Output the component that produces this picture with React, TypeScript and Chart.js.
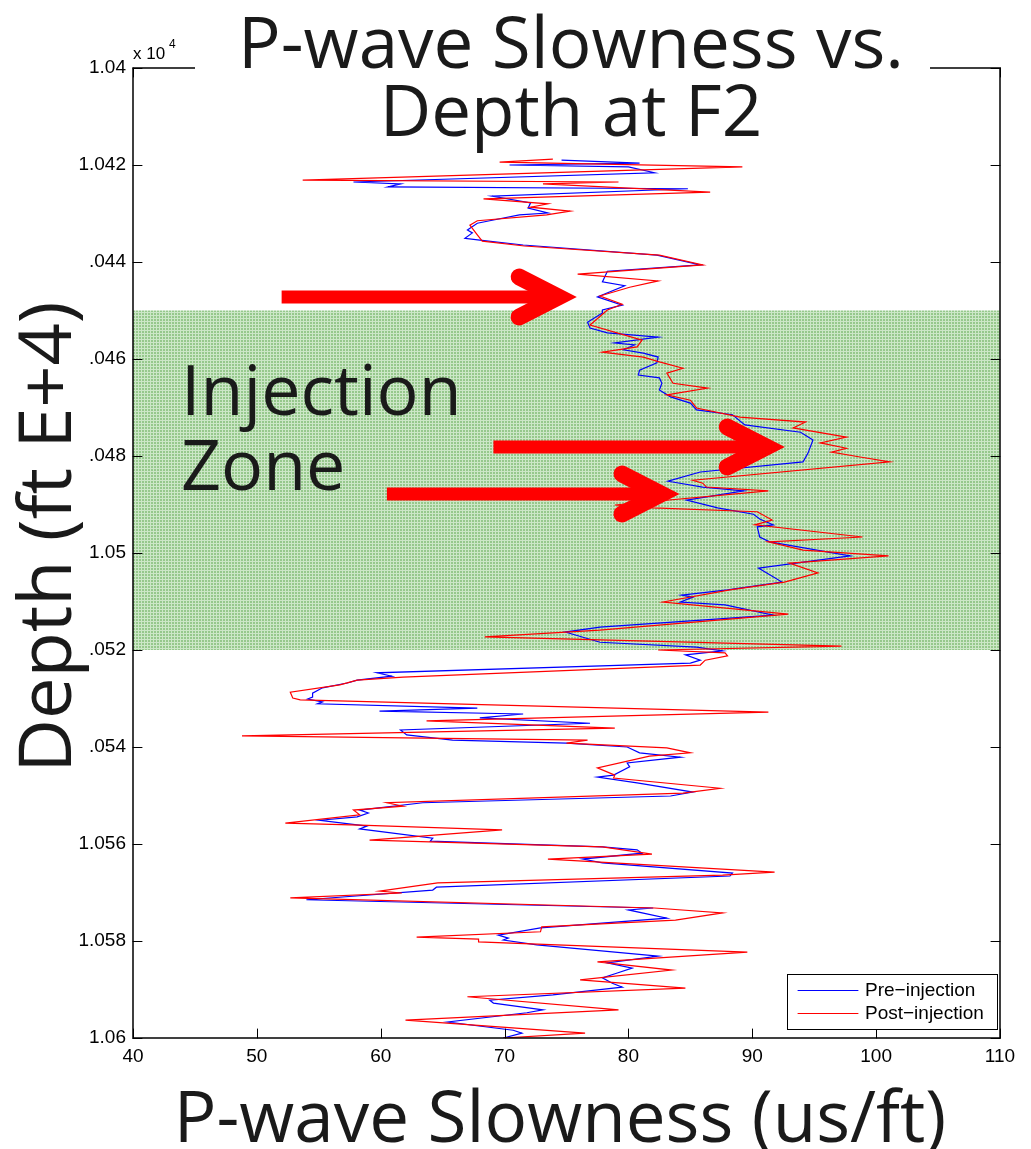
import React, { useEffect, useRef } from "react";
import { Chart, registerables } from "chart.js";

Chart.register(...registerables);

// ---------- data (depth in ft, slowness in us/ft) ----------
const preDepth = [
  10419.0, 10419.6, 10420.0, 10420.4, 10421.6, 10423.5, 10423.9, 10424.5, 10424.9, 10426.4,
  10427.8, 10428.9, 10429.9, 10430.3, 10431.5, 10432.0, 10433.4, 10434.0, 10435.1, 10435.5,
  10436.5, 10438.6, 10440.6, 10441.9, 10444.1, 10444.9, 10447.2, 10448.9, 10449.9, 10450.5,
  10452.4, 10453.6, 10454.6, 10455.5, 10456.7, 10457.1, 10458.1, 10458.8, 10459.6, 10460.8,
  10462.3, 10463.3, 10463.9, 10465.0, 10466.4, 10467.8, 10469.1, 10470.5, 10471.5, 10473.6,
  10475.1, 10476.7, 10479.4, 10481.2, 10483.3, 10485.2, 10486.4, 10487.2, 10489.1, 10490.7,
  10492.0, 10493.0, 10494.2, 10494.6, 10496.7, 10497.7, 10500.6, 10503.1, 10506.0, 10507.6,
  10508.7, 10509.1, 10510.1, 10510.7, 10512.8, 10515.3, 10516.3, 10518.4, 10519.4, 10520.2,
  10521.0, 10522.1, 10522.7, 10524.7, 10525.4, 10526.2, 10526.8, 10527.8, 10528.9, 10529.7,
  10530.1, 10530.7, 10531.1, 10532.0, 10532.6, 10533.2, 10534.0, 10535.1, 10536.5, 10537.5,
  10538.6, 10539.2, 10540.0, 10541.2, 10542.1, 10543.3, 10544.1, 10545.8, 10546.2, 10547.4,
  10549.3, 10550.1, 10551.5, 10553.0, 10553.6, 10554.4, 10555.1, 10556.3, 10556.9, 10558.8,
  10559.4, 10560.6, 10561.2, 10561.9, 10563.1, 10563.9, 10566.0, 10566.6, 10568.9, 10569.5,
  10571.5, 10573.2, 10573.6, 10575.3, 10577.3, 10578.8, 10579.4, 10579.8, 10580.8, 10583.1,
  10584.5, 10585.6, 10586.6, 10587.6, 10588.7, 10589.5, 10591.1, 10592.2, 10592.8, 10594.2,
  10594.8, 10596.7, 10598.4, 10599.0, 10600.0,
];
const preSlowness = [
  74.6, 80.9, 70.4, 80.0, 82.1, 57.8, 61.6, 60.6, 84.8, 69.0,
  72.1, 71.9, 73.5, 71.2, 68.8, 67.8, 67.0, 67.4, 66.8, 68.0,
  71.5, 82.3, 85.8, 78.3, 77.9, 79.7, 77.5, 79.5, 77.9, 77.9,
  76.7, 76.9, 78.3, 82.4, 78.9, 80.5, 79.6, 81.2, 82.4, 82.3,
  80.9, 80.8, 82.5, 82.7, 82.5, 83.4, 85.0, 85.5, 88.4, 89.4,
  93.9, 94.9, 94.5, 94.1, 85.8, 83.2, 86.0, 89.3, 84.7, 87.2,
  90.1, 90.6, 91.7, 90.4, 90.6, 91.4, 97.9, 90.5, 92.4, 88.0,
  84.3, 85.2, 84.2, 87.8, 91.7, 77.7, 74.9, 77.7, 85.5, 87.6,
  84.6, 85.8, 85.0, 59.7, 60.9, 58.1, 57.3, 55.3, 54.5, 54.5,
  54.1, 55.3, 54.9, 67.8, 59.9, 71.5, 68.0, 76.9, 61.6, 62.1,
  65.8, 75.0, 79.9, 80.9, 84.2, 79.9, 80.1, 78.8, 77.5, 80.7,
  85.2, 83.4, 63.4, 58.3, 59.0, 58.1, 55.1, 58.9, 58.3, 64.2,
  64.0, 77.9, 80.7, 81.1, 76.3, 77.9, 88.4, 88.2, 64.5, 64.2,
  54.0, 82.0, 80.0, 83.1, 72.9, 69.5, 70.3, 69.9, 72.6, 82.4,
  78.3, 80.3, 79.1, 77.9, 78.7, 79.5, 73.9, 68.8, 69.1, 73.1,
  71.8, 65.4, 70.7, 71.4, 69.9,
];

const postDepth = [
  10418.8, 10419.4, 10420.4, 10423.1, 10423.5, 10423.9, 10425.6, 10427.0, 10428.0, 10428.7,
  10429.5, 10430.3, 10431.5, 10432.4, 10434.4, 10435.7, 10436.7, 10438.6, 10440.6, 10442.5,
  10443.9, 10445.2, 10447.0, 10448.7, 10449.9, 10453.0, 10456.1, 10457.5, 10458.6, 10459.6,
  10460.6, 10461.9, 10462.9, 10465.0, 10466.0, 10467.4, 10468.5, 10470.1, 10472.0, 10473.0,
  10474.2, 10476.1, 10477.3, 10478.4, 10479.2, 10480.2, 10481.2, 10485.0, 10485.6, 10486.4,
  10487.2, 10490.1, 10490.7, 10491.5, 10493.2, 10494.2, 10496.7, 10497.7, 10499.4, 10500.6,
  10502.1, 10504.1, 10506.0, 10507.6, 10510.1, 10512.6, 10515.9, 10517.3, 10519.2, 10520.0,
  10520.6, 10521.2, 10522.1, 10523.1, 10525.6, 10526.2, 10527.2, 10528.7, 10529.9, 10530.3,
  10532.8, 10534.6, 10536.1, 10537.7, 10538.6, 10539.2, 10540.2, 10541.2, 10541.9, 10544.3,
  10545.8, 10546.4, 10548.5, 10549.5, 10551.5, 10552.2, 10553.0, 10554.0, 10555.7, 10556.1,
  10557.1, 10559.2, 10560.6, 10562.1, 10563.1, 10565.8, 10566.4, 10568.0, 10569.7, 10570.1,
  10571.1, 10573.2, 10574.2, 10575.7, 10577.1, 10578.1, 10579.2, 10579.6, 10580.2, 10582.3,
  10584.3, 10586.0, 10588.0, 10589.7, 10591.5, 10594.2, 10596.3, 10599.0, 10600.0,
];
const postSlowness = [
  73.9, 69.6, 89.2, 53.7, 79.2, 73.1, 86.6, 68.3, 73.5, 72.1,
  75.3, 73.4, 67.8, 67.2, 67.8, 68.2, 71.6, 82.5, 86.0, 75.9,
  82.4, 80.1, 77.7, 79.5, 78.3, 76.9, 81.1, 80.7, 77.9, 81.2,
  82.5, 84.4, 83.1, 83.6, 86.4, 83.1, 85.0, 85.5, 89.0, 94.3,
  93.3, 97.6, 95.5, 97.6, 96.4, 98.7, 101.1, 85.2, 86.0, 86.3,
  91.3, 78.9, 82.0, 90.4, 91.6, 90.2, 98.9, 91.3, 94.1, 101.0,
  93.0, 95.3, 92.6, 88.2, 82.8, 92.9, 77.7, 68.4, 97.2, 82.4,
  87.8, 88.0, 86.2, 85.8, 61.8, 58.1, 56.7, 52.7, 52.9, 53.5,
  91.3, 63.7, 78.9, 48.8, 76.7, 75.0, 83.1, 85.0, 81.7, 77.5,
  78.9, 78.8, 87.4, 84.4, 60.5, 61.8, 57.8, 58.3, 52.3, 58.3,
  69.8, 59.1, 77.9, 81.9, 73.5, 91.8, 87.6, 64.6, 59.9, 61.7,
  52.7, 82.1, 87.6, 83.8, 73.0, 72.9, 62.9, 67.9, 67.9, 89.6,
  77.5, 83.5, 76.1, 84.6, 67.0, 79.2, 62.0, 76.5, 69.9,
];

const depthTicks = [10400, 10420, 10440, 10460, 10480, 10500, 10520, 10540, 10560, 10580, 10600];
const depthTickLabels = ["1.04", "1.042", "1.044", "1.046", "1.048", "1.05", "1.052", "1.054", "1.056", "1.058", "1.06"];
const slownessTicks = [40, 50, 60, 70, 80, 90, 100, 110];
const slownessTickLabels = ["40", "50", "60", "70", "80", "90", "100", "110"];

const zoneTop = 10450;
const zoneBottom = 10520;

const arrowFrom = [52.0, 69.1, 60.5];
const arrowTo = [75.7, 92.5, 84.0];
const arrowDepth = [10447.2, 10478.2, 10487.8];

const seriesNames = ["Pre\u2212injection", "Post\u2212injection"];
const titleLines = ["P-wave Slowness vs.", "Depth at F2"];
const xTitle = "P-wave Slowness (us/ft)";
const yTitle = "Depth (ft E+4)";
const zoneLabel = ["Injection", "Zone"];

const TITLE_FONT = '"Open Sans", "DejaVu Sans", sans-serif';
const AXIS_FONT = '"Liberation Sans", Arial, sans-serif';

function makePattern(ctx: CanvasRenderingContext2D) {
  const c = document.createElement("canvas");
  c.width = 3;
  c.height = 3;
  const p = c.getContext("2d")!;
  p.fillStyle = "rgb(204,231,199)";
  p.fillRect(0, 0, 3, 3);
  p.fillStyle = "rgb(150,200,140)";
  p.fillRect(1, 1, 2, 2);
  return ctx.createPattern(c, "repeat");
}

const decorPlugin = {
  id: "decor",
  beforeDatasetsDraw(chart: any) {
    const { ctx, chartArea } = chart;
    const ys = chart.scales.y;
    const y1 = ys.getPixelForValue(zoneTop);
    const y2 = ys.getPixelForValue(zoneBottom);
    ctx.save();
    ctx.fillStyle = makePattern(ctx) || "rgb(180,218,172)";
    ctx.fillRect(chartArea.left, y1, chartArea.right - chartArea.left, y2 - y1);
    ctx.restore();
  },
  afterDatasetsDraw(chart: any) {
    const { ctx, chartArea } = chart;
    const xs = chart.scales.x;
    const ys = chart.scales.y;
    const L = chartArea.left, R = chartArea.right, T = chartArea.top, B = chartArea.bottom;
    ctx.save();

    // arrows
    for (let i = 0; i < arrowFrom.length; i++) {
      const x0 = xs.getPixelForValue(arrowFrom[i]);
      const x1 = xs.getPixelForValue(arrowTo[i]);
      const y = Math.round(ys.getPixelForValue(arrowDepth[i]));
      ctx.strokeStyle = "#ff0000";
      ctx.lineCap = "butt";
      ctx.lineWidth = 13;
      ctx.beginPath();
      ctx.moveTo(x0, y);
      ctx.lineTo(x1 - 22, y);
      ctx.stroke();
      ctx.lineWidth = 17;
      ctx.lineCap = "round";
      ctx.lineJoin = "miter";
      ctx.beginPath();
      ctx.moveTo(x1 - 56, y - 20);
      ctx.lineTo(x1 - 17, y);
      ctx.lineTo(x1 - 56, y + 20);
      ctx.stroke();
    }

    // zone label
    ctx.fillStyle = "#1a1a1a";
    ctx.font = `70px ${TITLE_FONT}`;
    ctx.textAlign = "left";
    ctx.textBaseline = "alphabetic";
    ctx.fillText(zoneLabel[0], 181, 415);
    ctx.fillText(zoneLabel[1], 181, 490);

    // frame
    ctx.strokeStyle = "#000";
    ctx.lineWidth = 1.5;
    ctx.strokeRect(L, T, R - L, B - T);

    // inward ticks
    ctx.lineWidth = 1;
    ctx.beginPath();
    for (const v of slownessTicks) {
      const x = Math.round(xs.getPixelForValue(v)) + 0.5;
      ctx.moveTo(x, B);
      ctx.lineTo(x, B - 9);
      ctx.moveTo(x, T);
      ctx.lineTo(x, T + 9);
    }
    for (const v of depthTicks) {
      const y = Math.round(ys.getPixelForValue(v)) + 0.5;
      ctx.moveTo(L, y);
      ctx.lineTo(L + 9, y);
      ctx.moveTo(R, y);
      ctx.lineTo(R - 9, y);
    }
    ctx.stroke();

    // legend
    const lx = 787.5, ly = 974.5, lw = 210, lh = 55;
    ctx.fillStyle = "#fff";
    ctx.fillRect(lx, ly, lw, lh);
    ctx.strokeStyle = "#000";
    ctx.lineWidth = 1;
    ctx.strokeRect(lx, ly, lw, lh);
    const colors = ["#0000ff", "#ff0000"];
    const rows = [990.5, 1013.5];
    ctx.font = `19px ${AXIS_FONT}`;
    ctx.textBaseline = "middle";
    for (let i = 0; i < 2; i++) {
      ctx.strokeStyle = colors[i];
      ctx.beginPath();
      ctx.moveTo(798, rows[i]);
      ctx.lineTo(858, rows[i]);
      ctx.stroke();
      ctx.fillStyle = "#000";
      ctx.fillText(seriesNames[i], 865, rows[i]);
    }

    // title with white box
    ctx.fillStyle = "#fff";
    ctx.fillRect(195, 0, 735, 152);
    ctx.fillStyle = "#1a1a1a";
    ctx.font = `71px ${TITLE_FONT}`;
    ctx.textAlign = "center";
    ctx.textBaseline = "alphabetic";
    ctx.fillText(titleLines[0], 571, 68);
    ctx.fillText(titleLines[1], 571, 136);

    // y title with white box (covers part of tick labels, as in the original)
    ctx.fillStyle = "#fff";
    ctx.fillRect(0, 250, 89, 540);
    ctx.save();
    ctx.translate(71, 537);
    ctx.rotate(-Math.PI / 2);
    ctx.fillStyle = "#1a1a1a";
    ctx.font = `74px ${TITLE_FONT}`;
    ctx.textAlign = "center";
    ctx.fillText(yTitle, 0, 0);
    ctx.restore();

    // x title
    ctx.fillStyle = "#1a1a1a";
    ctx.font = `71px ${TITLE_FONT}`;
    ctx.textAlign = "center";
    ctx.fillText(xTitle, 560, 1142);

    // exponent
    ctx.fillStyle = "#000";
    ctx.textAlign = "left";
    ctx.font = `17px ${AXIS_FONT}`;
    ctx.fillText("x 10", 133, 59);
    ctx.font = `12px ${AXIS_FONT}`;
    ctx.fillText("4", 169, 48);

    ctx.restore();
  },
};

export default function App() {
  const ref = useRef<HTMLCanvasElement | null>(null);

  useEffect(() => {
    document.body.style.margin = "0";
    const canvas = ref.current;
    if (!canvas) return;
    const pre = preDepth.map((d, i) => ({ x: preSlowness[i], y: d }));
    const post = postDepth.map((d, i) => ({ x: postSlowness[i], y: d }));
    const chart = new Chart(canvas, {
      type: "scatter",
      data: {
        datasets: [
          {
            label: seriesNames[0],
            data: pre,
            showLine: true,
            borderColor: "#0000ff",
            borderWidth: 1.2,
            pointRadius: 0,
            order: 1,
          },
          {
            label: seriesNames[1],
            data: post,
            showLine: true,
            borderColor: "#ff0000",
            borderWidth: 1.2,
            pointRadius: 0,
            order: 0,
          },
        ],
      },
      options: {
        animation: false,
        responsive: false,
        devicePixelRatio: 1,
        events: [],
        layout: { padding: { top: 68, right: 31, left: 0, bottom: 0 } },
        plugins: {
          legend: { display: false },
          tooltip: { enabled: false },
        },
        scales: {
          x: {
            type: "linear",
            position: "bottom",
            min: 40,
            max: 110,
            grid: { display: false, drawTicks: false },
            border: { display: false },
            afterBuildTicks: (s: any) => {
              s.ticks = slownessTicks.map((v) => ({ value: v }));
            },
            afterFit: (s: any) => {
              s.height = 111;
            },
            ticks: {
              color: "#000",
              font: { family: AXIS_FONT, size: 19 },
              padding: 7,
              maxRotation: 0,
              autoSkip: false,
              callback: (v: any) => {
                const i = slownessTicks.indexOf(Number(v));
                return i >= 0 ? slownessTickLabels[i] : "";
              },
            },
          },
          y: {
            type: "linear",
            position: "left",
            min: 10400,
            max: 10600,
            reverse: true,
            grid: { display: false, drawTicks: false },
            border: { display: false },
            afterBuildTicks: (s: any) => {
              s.ticks = depthTicks.map((v) => ({ value: v }));
            },
            afterFit: (s: any) => {
              s.width = 133;
            },
            ticks: {
              color: "#000",
              font: { family: AXIS_FONT, size: 19 },
              padding: 7,
              autoSkip: false,
              callback: (v: any) => {
                const i = depthTicks.indexOf(Math.round(Number(v)));
                return i >= 0 ? depthTickLabels[i] : "";
              },
            },
          },
        },
      },
      plugins: [decorPlugin],
    });
    return () => chart.destroy();
  }, []);

  return (
    <canvas
      ref={ref}
      width={1031}
      height={1149}
      style={{ display: "block", width: 1031, height: 1149, background: "#fff" }}
    />
  );
}
